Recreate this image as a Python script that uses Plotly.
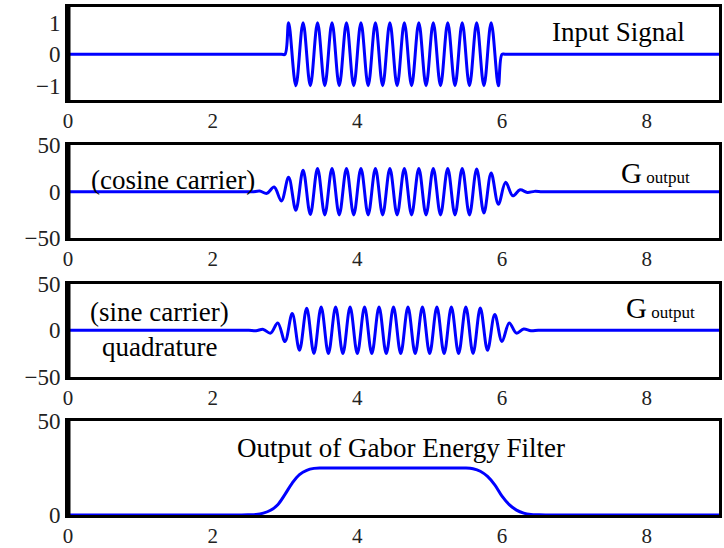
import plotly.graph_objects as go
from plotly.subplots import make_subplots

# ---------------- data ----------------
# Input signal: windowed 5 Hz sine between t=3 and t=6 (extrema)
t_input = [0, 2.95, 3.0,
           3.05, 3.15, 3.25, 3.35, 3.45, 3.55, 3.65, 3.75, 3.85, 3.95,
           4.05, 4.15, 4.25, 4.35, 4.45, 4.55, 4.65, 4.75, 4.85, 4.95,
           5.05, 5.15, 5.25, 5.35, 5.45, 5.55, 5.65, 5.75, 5.85, 5.95,
           6.0, 6.05, 9]
y_input = [0, 0, 0,
           1, -1, 1, -1, 1, -1, 1, -1, 1, -1,
           1, -1, 1, -1, 1, -1, 1, -1, 1, -1,
           1, -1, 1, -1, 1, -1, 1, -1, 1, -1,
           0, 0, 0]

# Gabor output, cosine carrier (extrema)
t_cos = [0, 2.45,
         2.55, 2.65, 2.75, 2.85, 2.95, 3.05, 3.15, 3.25, 3.35, 3.45,
         3.55, 3.65, 3.75, 3.85, 3.95, 4.05, 4.15, 4.25, 4.35, 4.45,
         4.55, 4.65, 4.75, 4.85, 4.95, 5.05, 5.15, 5.25, 5.35, 5.45,
         5.55, 5.65, 5.75, 5.85, 5.95, 6.05, 6.15, 6.25, 6.35, 6.45,
         6.55, 6.65, 9]
y_cos = [0, 0,
         -0.2, 0.6, -1.8, 5, -10, 15.5, -20, 23, -24.5, 25,
         -25, 25, -25, 25, -25, 25, -25, 25, -25, 25,
         -25, 25, -25, 25, -25, 25, -25, 25, -25, 25,
         -25, 24.5, -23, 20, -13.5, 10, -4.5, 2, -0.8, 0.3,
         -0.1, 0, 0]

# Gabor output, sine carrier (quadrature) (extrema)
t_sin = [0, 2.4,
         2.5, 2.6, 2.7, 2.8, 2.9, 3.0, 3.1, 3.2, 3.3, 3.4,
         3.5, 3.6, 3.7, 3.8, 3.9, 4.0, 4.1, 4.2, 4.3, 4.4,
         4.5, 4.6, 4.7, 4.8, 4.9, 5.0, 5.1, 5.2, 5.3, 5.4,
         5.5, 5.6, 5.7, 5.8, 5.9, 6.0, 6.1, 6.2, 6.3, 6.4,
         6.5, 6.6, 9]
y_sin = [0, 0,
         0.1, -0.4, 1.0, -3, 8, -12, 18, -21.5, 23.8, -24.8,
         25, -25, 25, -25, 25, -25, 25, -25, 25, -25,
         25, -25, 25, -25, 25, -25, 25, -25, 25, -25,
         25, -24.8, 24, -21.5, 17, -12, 8, -3, 1.5, -0.5,
         0.2, 0, 0]

# Output of the Gabor energy filter
t_energy = [0, 2.4, 2.5, 2.6, 2.7, 2.8, 2.9, 3.0, 3.1, 3.2, 3.3, 3.4, 3.5, 3.6,
            5.4, 5.5, 5.6, 5.7, 5.8, 5.9, 6.0, 6.1, 6.2, 6.3, 6.4, 6.5, 6.6, 9]
y_energy = [0, 0, 0.1, 0.3, 1.0, 2.5, 5.5, 11, 17, 21.5, 23.8, 24.8, 25, 25,
            25, 25, 24.6, 23.3, 20.5, 16, 10, 5.5, 2.6, 1.0, 0.3, 0.1, 0, 0]

x_ticks = [0, 2, 4, 6, 8]
x_tick_text = ["0", "2", "4", "6", "8"]
y1_ticks = [1, 0, -1]
y1_tick_text = ["1", "0", "\u22121"]
y23_ticks = [50, 0, -50]
y23_tick_text = ["50", "0", "\u221250"]
y4_ticks = [50, 0]
y4_tick_text = ["50", "0"]

# ---------------- figure ----------------
SERIF = "Liberation Serif, Times New Roman, serif"
fig = make_subplots(rows=4, cols=1)

series = [(t_input, y_input), (t_cos, y_cos), (t_sin, y_sin), (t_energy, y_energy)]
for i, (tx, ty) in enumerate(series, start=1):
    fig.add_trace(go.Scatter(x=tx, y=ty, mode="lines",
                             line=dict(color="#0000ff", width=3, shape="spline", smoothing=1.0),
                             showlegend=False, hoverinfo="skip"), row=i, col=1)

domains = [[0.817, 1.0], [0.545, 0.728], [0.272, 0.455], [0.0, 0.185]]
yranges = [[-1.45, 1.5], [-50, 50], [-50, 50], [0, 50]]
yticks = [(y1_ticks, y1_tick_text), (y23_ticks, y23_tick_text),
          (y23_ticks, y23_tick_text), (y4_ticks, y4_tick_text)]

for i in range(1, 5):
    xa = "xaxis" if i == 1 else f"xaxis{i}"
    ya = "yaxis" if i == 1 else f"yaxis{i}"
    fig.layout[xa].update(range=[0, 9], tickvals=x_ticks, ticktext=x_tick_text,
                          showline=True, mirror=True, linecolor="black", linewidth=3,
                          ticks="", showgrid=False, zeroline=False,
                          tickfont=dict(family=SERIF, size=21, color="#222222"),
                          ticklabelstandoff=0, fixedrange=True, automargin=False,
                          layer="below traces" if i == 4 else "above traces")
    fig.layout[ya].update(domain=domains[i - 1], range=yranges[i - 1],
                          tickvals=yticks[i - 1][0], ticktext=yticks[i - 1][1],
                          showline=True, mirror=True, linecolor="black", linewidth=3,
                          ticks="", showgrid=False, zeroline=False,
                          tickfont=dict(family=SERIF, size=23, color="#222222"),
                          ticklabelstandoff=0, fixedrange=True, automargin=False)
    yref = "y domain" if i == 1 else f"y{i} domain"
    fig.add_shape(type="line", xref="paper", yref=yref, x0=0, x1=0, y0=-0.01, y1=1.01,
                  line=dict(color="black", width=5))

txt_font = dict(family=SERIF, size=27, color="black")
G_font = dict(family=SERIF, size=29, color="black")
G_text = "G<span style='font-size:17px'> output</span>"
ann = [
    dict(x=7.61, y=0.70, xref="x", yref="y", text="Input Signal"),
    dict(x=1.45, y=12.5, xref="x2", yref="y2", text="(cosine carrier)"),
    dict(x=8.12, y=20, xref="x2", yref="y2", text=G_text, font=G_font),
    dict(x=1.26, y=20, xref="x3", yref="y3", text="(sine carrier)"),
    dict(x=1.27, y=-17.5, xref="x3", yref="y3", text="quadrature"),
    dict(x=8.19, y=24, xref="x3", yref="y3", text=G_text, font=G_font),
    dict(x=4.61, y=35.6, xref="x4", yref="y4", text="Output of Gabor Energy Filter"),
]
for a in ann:
    a.setdefault("font", txt_font)
    fig.add_annotation(showarrow=False, xanchor="center", yanchor="middle", **a)

fig.update_layout(width=724, height=548, margin=dict(l=68, r=5, t=7, b=33, autoexpand=False),
                  plot_bgcolor="white", paper_bgcolor="white", showlegend=False,
                  font=dict(family=SERIF))

fig.write_html("out.html", config={"displayModeBar": False},
               post_script="document.body.style.margin='0';document.body.style.overflow='hidden';")
